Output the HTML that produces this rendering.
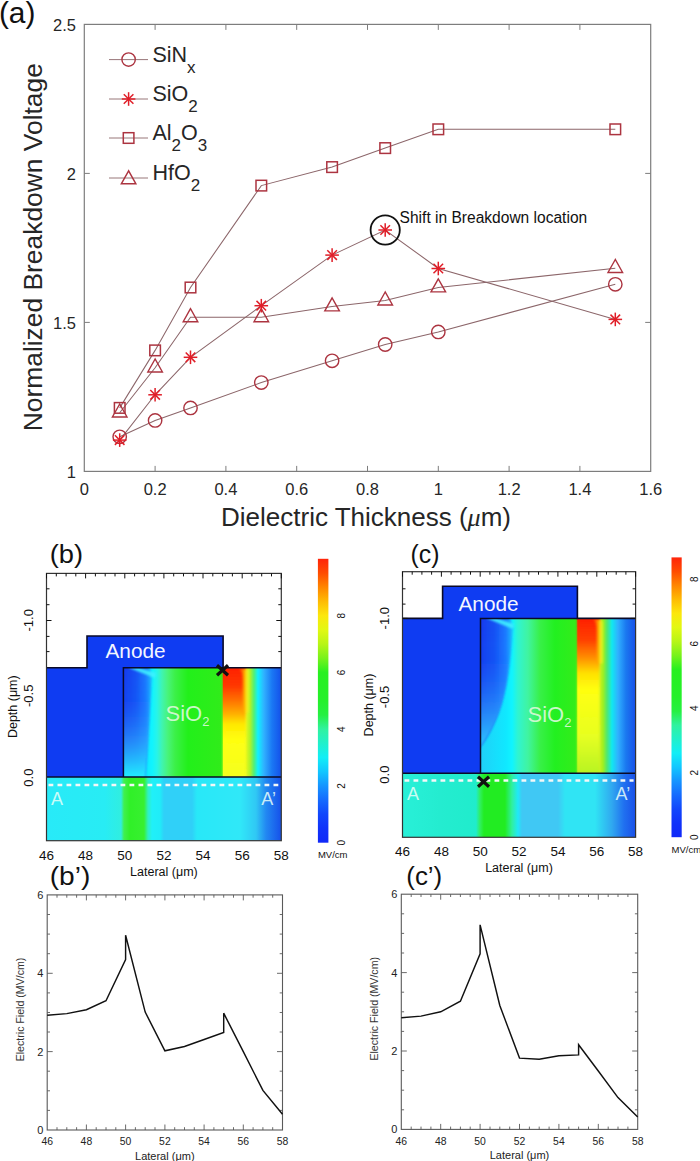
<!DOCTYPE html>
<html><head><meta charset="utf-8"><style>
html,body{margin:0;padding:0;background:#fff;width:700px;height:1161px;overflow:hidden}
svg{display:block;font-family:"Liberation Sans", sans-serif}
</style></head><body>
<svg width="700" height="1161" viewBox="0 0 700 1161">
<defs><filter id="bl1" x="-20%" y="-20%" width="140%" height="140%"><feGaussianBlur stdDeviation="1.3"/></filter><filter id="bl2" x="-20%" y="-20%" width="140%" height="140%"><feGaussianBlur stdDeviation="2.2"/></filter><clipPath id="bclip"><rect x="123.4" y="667.8" width="157.9" height="109.20000000000005"/></clipPath><clipPath id="bclipsub"><rect x="46.5" y="777" width="234.8" height="63.700000000000045"/></clipPath><linearGradient id="box" gradientUnits="userSpaceOnUse" x1="123.4" y1="0" x2="281.3" y2="0"><stop offset="0.0000" stop-color="#20c8ff"/><stop offset="0.1431" stop-color="#10e8ff"/><stop offset="0.1811" stop-color="#10f4ff"/><stop offset="0.2128" stop-color="#28f4e8"/><stop offset="0.2445" stop-color="#40f4b0"/><stop offset="0.2825" stop-color="#48f478"/><stop offset="0.3268" stop-color="#3cf048"/><stop offset="0.4091" stop-color="#22f01a"/><stop offset="0.6181" stop-color="#30ec1a"/><stop offset="0.7701" stop-color="#f0f820"/><stop offset="0.8018" stop-color="#b0f428"/><stop offset="0.8271" stop-color="#50f078"/><stop offset="0.8524" stop-color="#10f0ff"/><stop offset="0.8904" stop-color="#30b0ff"/><stop offset="0.9411" stop-color="#1a78f4"/><stop offset="1.0000" stop-color="#1450ea"/></linearGradient><linearGradient id="bbl" gradientUnits="userSpaceOnUse" x1="123.4" y1="0" x2="151.5" y2="0"><stop offset="0.0000" stop-color="#1238ee"/><stop offset="0.4500" stop-color="#1850f4"/><stop offset="0.8000" stop-color="#1c78ff"/><stop offset="1.0000" stop-color="#20b8ff"/></linearGradient><linearGradient id="bblv" gradientUnits="userSpaceOnUse" x1="0" y1="667.8" x2="0" y2="777"><stop offset="0.0000" stop-color="#30c0ff" stop-opacity="0"/><stop offset="0.2949" stop-color="#2080ff" stop-opacity="0.12"/><stop offset="0.6612" stop-color="#30b8ff" stop-opacity="0.55"/><stop offset="1.0000" stop-color="#20eeff" stop-opacity="1.0"/></linearGradient><linearGradient id="bred" gradientUnits="userSpaceOnUse" x1="0" y1="667.8" x2="0" y2="777"><stop offset="0.0000" stop-color="#ff2000" stop-opacity="1"/><stop offset="0.1667" stop-color="#ff3800" stop-opacity="1"/><stop offset="0.2949" stop-color="#ff7000" stop-opacity="1"/><stop offset="0.4231" stop-color="#ffb000" stop-opacity="1"/><stop offset="0.5147" stop-color="#ffe800" stop-opacity="1"/><stop offset="0.6612" stop-color="#ffff10" stop-opacity="1"/><stop offset="1.0000" stop-color="#f4ff20" stop-opacity="1"/></linearGradient><linearGradient id="bedge" gradientUnits="userSpaceOnUse" x1="238.5" y1="0" x2="250.5" y2="0"><stop offset="0" stop-color="#ff9000" stop-opacity="0"/><stop offset="0.45" stop-color="#ffa800" stop-opacity="0.85"/><stop offset="0.7" stop-color="#f8f020" stop-opacity="0.9"/><stop offset="1" stop-color="#c0f020" stop-opacity="0"/></linearGradient><linearGradient id="bsub" gradientUnits="userSpaceOnUse" x1="46.5" y1="0" x2="281.3" y2="0"><stop offset="0.0000" stop-color="#28eaf8"/><stop offset="0.2491" stop-color="#28ecf4"/><stop offset="0.3173" stop-color="#30eee0"/><stop offset="0.3301" stop-color="#40f050"/><stop offset="0.3556" stop-color="#30f028"/><stop offset="0.4152" stop-color="#38f030"/><stop offset="0.4323" stop-color="#30f0c0"/><stop offset="0.4493" stop-color="#20f0f8"/><stop offset="0.4834" stop-color="#20ecf8"/><stop offset="0.5004" stop-color="#30d0f8"/><stop offset="0.6197" stop-color="#30d0f8"/><stop offset="0.6410" stop-color="#28e8f8"/><stop offset="0.8241" stop-color="#30e8f8"/><stop offset="0.8922" stop-color="#30c8f4"/><stop offset="0.9348" stop-color="#2288f2"/><stop offset="1.0000" stop-color="#1650ea"/></linearGradient><linearGradient id="bcb" x1="0" y1="1" x2="0" y2="0"><stop offset="0.00" stop-color="#1028f8"/><stop offset="0.05" stop-color="#1032fa"/><stop offset="0.10" stop-color="#1146fc"/><stop offset="0.15" stop-color="#156afe"/><stop offset="0.20" stop-color="#1694ff"/><stop offset="0.25" stop-color="#12c6ff"/><stop offset="0.30" stop-color="#12eef6"/><stop offset="0.35" stop-color="#21f0cb"/><stop offset="0.40" stop-color="#30f2a0"/><stop offset="0.45" stop-color="#26f042"/><stop offset="0.50" stop-color="#25f02b"/><stop offset="0.55" stop-color="#26f025"/><stop offset="0.60" stop-color="#28f020"/><stop offset="0.65" stop-color="#78f21b"/><stop offset="0.70" stop-color="#b8f516"/><stop offset="0.75" stop-color="#e2f812"/><stop offset="0.80" stop-color="#fce70c"/><stop offset="0.85" stop-color="#febb04"/><stop offset="0.90" stop-color="#ff8600"/><stop offset="0.95" stop-color="#ff4c01"/><stop offset="1.00" stop-color="#ff240a"/></linearGradient><clipPath id="cclip"><rect x="480.5" y="618.4" width="155.10000000000002" height="154.80000000000007"/></clipPath><clipPath id="cclipsub"><rect x="402.5" y="773.2" width="233.10000000000002" height="64.09999999999991"/></clipPath><linearGradient id="cox" gradientUnits="userSpaceOnUse" x1="480.5" y1="0" x2="635.6" y2="0"><stop offset="0.0000" stop-color="#20d0f8"/><stop offset="0.1644" stop-color="#10e8ff"/><stop offset="0.2031" stop-color="#10f4ff"/><stop offset="0.2418" stop-color="#30f4d0"/><stop offset="0.3063" stop-color="#40f4a0"/><stop offset="0.3836" stop-color="#38f048"/><stop offset="0.4803" stop-color="#22f020"/><stop offset="0.6222" stop-color="#34ec1a"/><stop offset="0.7640" stop-color="#d0f020"/><stop offset="0.7898" stop-color="#a0f020"/><stop offset="0.8156" stop-color="#50e870"/><stop offset="0.8478" stop-color="#10e8f0"/><stop offset="0.8865" stop-color="#30b0ff"/><stop offset="0.9381" stop-color="#1a78f0"/><stop offset="1.0000" stop-color="#1850e8"/></linearGradient><linearGradient id="cbl" gradientUnits="userSpaceOnUse" x1="480.5" y1="0" x2="512" y2="0"><stop offset="0.0000" stop-color="#1238ee"/><stop offset="0.4500" stop-color="#1850f4"/><stop offset="0.8000" stop-color="#1c78ff"/><stop offset="1.0000" stop-color="#20b8ff"/></linearGradient><linearGradient id="cblv" gradientUnits="userSpaceOnUse" x1="0" y1="618.4" x2="0" y2="773.2"><stop offset="0.0000" stop-color="#30c0ff" stop-opacity="0"/><stop offset="0.2687" stop-color="#2080ff" stop-opacity="0.1"/><stop offset="0.5594" stop-color="#30b0ff" stop-opacity="0.5"/><stop offset="0.8501" stop-color="#30d8ff" stop-opacity="0.95"/></linearGradient><linearGradient id="cred" gradientUnits="userSpaceOnUse" x1="0" y1="618.4" x2="0" y2="773.2"><stop offset="0.0000" stop-color="#ff2000" stop-opacity="1"/><stop offset="0.1395" stop-color="#ff4000" stop-opacity="1"/><stop offset="0.2558" stop-color="#ff9000" stop-opacity="1"/><stop offset="0.3527" stop-color="#ffe000" stop-opacity="1"/><stop offset="0.4625" stop-color="#ffff10" stop-opacity="1"/><stop offset="0.7532" stop-color="#e8ff20" stop-opacity="1"/><stop offset="1.0000" stop-color="#b8f420" stop-opacity="1"/></linearGradient><linearGradient id="cedge" gradientUnits="userSpaceOnUse" x1="592.5" y1="0" x2="604.5" y2="0"><stop offset="0" stop-color="#ff9000" stop-opacity="0"/><stop offset="0.45" stop-color="#ffa800" stop-opacity="0.85"/><stop offset="0.7" stop-color="#f8f020" stop-opacity="0.9"/><stop offset="1" stop-color="#c0f020" stop-opacity="0"/></linearGradient><linearGradient id="csub" gradientUnits="userSpaceOnUse" x1="402.5" y1="0" x2="635.6" y2="0"><stop offset="0.0000" stop-color="#28f0d8"/><stop offset="0.1609" stop-color="#24ecd0"/><stop offset="0.3153" stop-color="#20eccc"/><stop offset="0.3325" stop-color="#30f060"/><stop offset="0.3496" stop-color="#22ec22"/><stop offset="0.4397" stop-color="#22ec22"/><stop offset="0.4698" stop-color="#30f0a0"/><stop offset="0.4955" stop-color="#20e8f8"/><stop offset="0.5127" stop-color="#40c8f4"/><stop offset="0.6671" stop-color="#40c8f4"/><stop offset="0.6971" stop-color="#30e4f4"/><stop offset="0.8258" stop-color="#30e4f4"/><stop offset="0.8988" stop-color="#30a8f0"/><stop offset="0.9502" stop-color="#2070f0"/><stop offset="1.0000" stop-color="#1a50e8"/></linearGradient><linearGradient id="ccb" x1="0" y1="1" x2="0" y2="0"><stop offset="0.00" stop-color="#1028f8"/><stop offset="0.05" stop-color="#1032fa"/><stop offset="0.10" stop-color="#1146fc"/><stop offset="0.15" stop-color="#156afe"/><stop offset="0.20" stop-color="#1694ff"/><stop offset="0.25" stop-color="#12c6ff"/><stop offset="0.30" stop-color="#12eef6"/><stop offset="0.35" stop-color="#21f0cb"/><stop offset="0.40" stop-color="#30f2a0"/><stop offset="0.45" stop-color="#26f042"/><stop offset="0.50" stop-color="#25f02b"/><stop offset="0.55" stop-color="#26f025"/><stop offset="0.60" stop-color="#28f020"/><stop offset="0.65" stop-color="#78f21b"/><stop offset="0.70" stop-color="#b8f516"/><stop offset="0.75" stop-color="#e2f812"/><stop offset="0.80" stop-color="#fce70c"/><stop offset="0.85" stop-color="#febb04"/><stop offset="0.90" stop-color="#ff8600"/><stop offset="0.95" stop-color="#ff4c01"/><stop offset="1.00" stop-color="#ff240a"/></linearGradient></defs>
<rect width="700" height="1161" fill="#fff"/>
<rect x="84.3" y="24.4" width="566.4000000000001" height="447.0" fill="none" stroke="#7d7d7d" stroke-width="1.2"/>
<line x1="155.1" y1="471.4" x2="155.1" y2="465.9" stroke="#7d7d7d" stroke-width="1"/>
<line x1="155.1" y1="24.4" x2="155.1" y2="29.9" stroke="#7d7d7d" stroke-width="1"/>
<line x1="225.9" y1="471.4" x2="225.9" y2="465.9" stroke="#7d7d7d" stroke-width="1"/>
<line x1="225.9" y1="24.4" x2="225.9" y2="29.9" stroke="#7d7d7d" stroke-width="1"/>
<line x1="296.7" y1="471.4" x2="296.7" y2="465.9" stroke="#7d7d7d" stroke-width="1"/>
<line x1="296.7" y1="24.4" x2="296.7" y2="29.9" stroke="#7d7d7d" stroke-width="1"/>
<line x1="367.5" y1="471.4" x2="367.5" y2="465.9" stroke="#7d7d7d" stroke-width="1"/>
<line x1="367.5" y1="24.4" x2="367.5" y2="29.9" stroke="#7d7d7d" stroke-width="1"/>
<line x1="438.3" y1="471.4" x2="438.3" y2="465.9" stroke="#7d7d7d" stroke-width="1"/>
<line x1="438.3" y1="24.4" x2="438.3" y2="29.9" stroke="#7d7d7d" stroke-width="1"/>
<line x1="509.1" y1="471.4" x2="509.1" y2="465.9" stroke="#7d7d7d" stroke-width="1"/>
<line x1="509.1" y1="24.4" x2="509.1" y2="29.9" stroke="#7d7d7d" stroke-width="1"/>
<line x1="579.9" y1="471.4" x2="579.9" y2="465.9" stroke="#7d7d7d" stroke-width="1"/>
<line x1="579.9" y1="24.4" x2="579.9" y2="29.9" stroke="#7d7d7d" stroke-width="1"/>
<line x1="84.3" y1="322.4" x2="89.8" y2="322.4" stroke="#7d7d7d" stroke-width="1"/>
<line x1="650.7" y1="322.4" x2="645.2" y2="322.4" stroke="#7d7d7d" stroke-width="1"/>
<line x1="84.3" y1="173.4" x2="89.8" y2="173.4" stroke="#7d7d7d" stroke-width="1"/>
<line x1="650.7" y1="173.4" x2="645.2" y2="173.4" stroke="#7d7d7d" stroke-width="1"/>
<text x="84.3" y="495" font-size="16.5" text-anchor="middle" fill="#262626">0</text>
<text x="155.1" y="495" font-size="16.5" text-anchor="middle" fill="#262626">0.2</text>
<text x="225.9" y="495" font-size="16.5" text-anchor="middle" fill="#262626">0.4</text>
<text x="296.7" y="495" font-size="16.5" text-anchor="middle" fill="#262626">0.6</text>
<text x="367.5" y="495" font-size="16.5" text-anchor="middle" fill="#262626">0.8</text>
<text x="438.3" y="495" font-size="16.5" text-anchor="middle" fill="#262626">1</text>
<text x="509.1" y="495" font-size="16.5" text-anchor="middle" fill="#262626">1.2</text>
<text x="579.9" y="495" font-size="16.5" text-anchor="middle" fill="#262626">1.4</text>
<text x="650.7" y="495" font-size="16.5" text-anchor="middle" fill="#262626">1.6</text>
<text x="76" y="478.2" font-size="16.5" text-anchor="end" fill="#262626">1</text>
<text x="76" y="329.2" font-size="16.5" text-anchor="end" fill="#262626">1.5</text>
<text x="76" y="180.2" font-size="16.5" text-anchor="end" fill="#262626">2</text>
<text x="76" y="31.2" font-size="16.5" text-anchor="end" fill="#262626">2.5</text>
<text x="366" y="525.8" font-size="26" text-anchor="middle" fill="#262626">Dielectric Thickness (<tspan font-family="Liberation Serif" font-style="italic">μ</tspan>m)</text>
<text transform="translate(41.9,247.2) rotate(-90)" x="0" y="0" font-size="26.4" text-anchor="middle" fill="#262626">Normalized Breakdown Voltage</text>
<text x="-1.1" y="23.2" font-size="29.2" textLength="36.5" lengthAdjust="spacingAndGlyphs" fill="#111">(a)</text>
<polyline points="119.7,436.8 155.1,420.4 190.5,407.9 261.3,382.6 332.1,360.8 385.2,344.5 438.3,331.9 615.3,284.3" fill="none" stroke="#8c666a" stroke-width="1.05"/>
<polyline points="119.7,412.7 155.1,367.7 190.5,317.3 261.3,317.3 332.1,306.6 385.2,300.6 438.3,287.5 615.3,268.2" fill="none" stroke="#8c666a" stroke-width="1.05"/>
<polyline points="119.7,440.1 155.1,394.8 190.5,357.3 261.3,305.7 332.1,255.1 385.2,230.0 438.3,268.5 615.3,319.4" fill="none" stroke="#8c666a" stroke-width="1.05"/>
<polyline points="119.7,407.9 155.1,350.4 190.5,287.5 261.3,185.6 332.1,167.1 385.2,148.1 438.3,129.3 615.3,129.3" fill="none" stroke="#8c666a" stroke-width="1.05"/>
<circle cx="119.7" cy="436.8" r="6.7" fill="none" stroke="#ac3440" stroke-width="1.4"/>
<circle cx="155.1" cy="420.4" r="6.7" fill="none" stroke="#ac3440" stroke-width="1.4"/>
<circle cx="190.5" cy="407.9" r="6.7" fill="none" stroke="#ac3440" stroke-width="1.4"/>
<circle cx="261.3" cy="382.6" r="6.7" fill="none" stroke="#ac3440" stroke-width="1.4"/>
<circle cx="332.1" cy="360.8" r="6.7" fill="none" stroke="#ac3440" stroke-width="1.4"/>
<circle cx="385.2" cy="344.5" r="6.7" fill="none" stroke="#ac3440" stroke-width="1.4"/>
<circle cx="438.3" cy="331.9" r="6.7" fill="none" stroke="#ac3440" stroke-width="1.4"/>
<circle cx="615.3" cy="284.3" r="6.7" fill="none" stroke="#ac3440" stroke-width="1.4"/>
<polygon points="119.7,404.0 112.4,417.0 127.0,417.0" fill="none" stroke="#ac3440" stroke-width="1.4" stroke-linejoin="miter"/>
<polygon points="155.1,359.0 147.8,372.0 162.4,372.0" fill="none" stroke="#ac3440" stroke-width="1.4" stroke-linejoin="miter"/>
<polygon points="190.5,308.7 183.2,321.7 197.8,321.7" fill="none" stroke="#ac3440" stroke-width="1.4" stroke-linejoin="miter"/>
<polygon points="261.3,308.7 254.0,321.7 268.6,321.7" fill="none" stroke="#ac3440" stroke-width="1.4" stroke-linejoin="miter"/>
<polygon points="332.1,297.9 324.8,310.9 339.4,310.9" fill="none" stroke="#ac3440" stroke-width="1.4" stroke-linejoin="miter"/>
<polygon points="385.2,292.0 377.9,305.0 392.5,305.0" fill="none" stroke="#ac3440" stroke-width="1.4" stroke-linejoin="miter"/>
<polygon points="438.3,278.9 431.0,291.9 445.6,291.9" fill="none" stroke="#ac3440" stroke-width="1.4" stroke-linejoin="miter"/>
<polygon points="615.3,259.5 608.0,272.5 622.6,272.5" fill="none" stroke="#ac3440" stroke-width="1.4" stroke-linejoin="miter"/>
<g stroke="#e01e28" stroke-width="1.5"><line x1="112.9" y1="440.1" x2="126.5" y2="440.1"/><line x1="114.9" y1="435.3" x2="124.5" y2="444.9"/><line x1="119.7" y1="433.3" x2="119.7" y2="446.9"/><line x1="124.5" y1="435.3" x2="114.9" y2="444.9"/></g>
<g stroke="#e01e28" stroke-width="1.5"><line x1="148.3" y1="394.8" x2="161.9" y2="394.8"/><line x1="150.3" y1="390.0" x2="159.9" y2="399.6"/><line x1="155.1" y1="388.0" x2="155.1" y2="401.6"/><line x1="159.9" y1="390.0" x2="150.3" y2="399.6"/></g>
<g stroke="#e01e28" stroke-width="1.5"><line x1="183.7" y1="357.3" x2="197.3" y2="357.3"/><line x1="185.7" y1="352.5" x2="195.3" y2="362.1"/><line x1="190.5" y1="350.5" x2="190.5" y2="364.1"/><line x1="195.3" y1="352.5" x2="185.7" y2="362.1"/></g>
<g stroke="#e01e28" stroke-width="1.5"><line x1="254.5" y1="305.7" x2="268.1" y2="305.7"/><line x1="256.5" y1="300.9" x2="266.1" y2="310.5"/><line x1="261.3" y1="298.9" x2="261.3" y2="312.5"/><line x1="266.1" y1="300.9" x2="256.5" y2="310.5"/></g>
<g stroke="#e01e28" stroke-width="1.5"><line x1="325.3" y1="255.1" x2="338.9" y2="255.1"/><line x1="327.3" y1="250.2" x2="336.9" y2="259.9"/><line x1="332.1" y1="248.3" x2="332.1" y2="261.9"/><line x1="336.9" y1="250.2" x2="327.3" y2="259.9"/></g>
<g stroke="#e01e28" stroke-width="1.5"><line x1="378.4" y1="230.0" x2="392.0" y2="230.0"/><line x1="380.4" y1="225.2" x2="390.0" y2="234.8"/><line x1="385.2" y1="223.2" x2="385.2" y2="236.8"/><line x1="390.0" y1="225.2" x2="380.4" y2="234.8"/></g>
<g stroke="#e01e28" stroke-width="1.5"><line x1="431.5" y1="268.5" x2="445.1" y2="268.5"/><line x1="433.5" y1="263.7" x2="443.1" y2="273.3"/><line x1="438.3" y1="261.7" x2="438.3" y2="275.3"/><line x1="443.1" y1="263.7" x2="433.5" y2="273.3"/></g>
<g stroke="#e01e28" stroke-width="1.5"><line x1="608.5" y1="319.4" x2="622.1" y2="319.4"/><line x1="610.5" y1="314.6" x2="620.1" y2="324.2"/><line x1="615.3" y1="312.6" x2="615.3" y2="326.2"/><line x1="620.1" y1="314.6" x2="610.5" y2="324.2"/></g>
<rect x="114.4" y="402.6" width="10.6" height="10.6" fill="none" stroke="#ac3440" stroke-width="1.5"/>
<rect x="149.8" y="345.1" width="10.6" height="10.6" fill="none" stroke="#ac3440" stroke-width="1.5"/>
<rect x="185.2" y="282.2" width="10.6" height="10.6" fill="none" stroke="#ac3440" stroke-width="1.5"/>
<rect x="256.0" y="180.3" width="10.6" height="10.6" fill="none" stroke="#ac3440" stroke-width="1.5"/>
<rect x="326.8" y="161.8" width="10.6" height="10.6" fill="none" stroke="#ac3440" stroke-width="1.5"/>
<rect x="379.9" y="142.8" width="10.6" height="10.6" fill="none" stroke="#ac3440" stroke-width="1.5"/>
<rect x="433.0" y="124.0" width="10.6" height="10.6" fill="none" stroke="#ac3440" stroke-width="1.5"/>
<rect x="610.0" y="124.0" width="10.6" height="10.6" fill="none" stroke="#ac3440" stroke-width="1.5"/>
<circle cx="385.2" cy="230.0" r="14.6" fill="none" stroke="#111" stroke-width="1.8"/>
<text x="399.6" y="223.3" font-size="16" textLength="187.6" lengthAdjust="spacingAndGlyphs" fill="#111">Shift in Breakdown location</text>
<line x1="109" y1="59.6" x2="148" y2="59.6" stroke="#8c666a" stroke-width="0.9"/>
<circle cx="128.6" cy="59.6" r="6.7" fill="none" stroke="#ac3440" stroke-width="1.4"/>
<line x1="109" y1="99" x2="148" y2="99" stroke="#8c666a" stroke-width="0.9"/>
<g stroke="#e01e28" stroke-width="1.5"><line x1="121.8" y1="99.0" x2="135.4" y2="99.0"/><line x1="123.8" y1="94.2" x2="133.4" y2="103.8"/><line x1="128.6" y1="92.2" x2="128.6" y2="105.8"/><line x1="133.4" y1="94.2" x2="123.8" y2="103.8"/></g>
<line x1="109" y1="138" x2="148" y2="138" stroke="#8c666a" stroke-width="0.9"/>
<rect x="123.3" y="132.7" width="10.6" height="10.6" fill="none" stroke="#ac3440" stroke-width="1.5"/>
<line x1="109" y1="178" x2="148" y2="178" stroke="#8c666a" stroke-width="0.9"/>
<polygon points="128.6,170.8 121.3,183.8 135.9,183.8" fill="none" stroke="#ac3440" stroke-width="1.4" stroke-linejoin="miter"/>
<text x="152.4" y="62.0" font-size="21.5" fill="#262626">SiN<tspan font-size="17" dy="11">x</tspan></text>
<text x="152.4" y="101.4" font-size="21.5" fill="#262626">SiO<tspan font-size="17" dy="11">2</tspan></text>
<text x="152.4" y="140.4" font-size="21.5" fill="#262626">Al<tspan font-size="17" dy="11">2</tspan><tspan dy="-11">O</tspan><tspan font-size="17" dy="11">3</tspan></text>
<text x="152.4" y="180.4" font-size="21.5" fill="#262626">HfO<tspan font-size="17" dy="11">2</tspan></text>
<rect x="46.5" y="573.4" width="234.8" height="267.30000000000007" fill="#fff"/>
<path d="M46.5,667.8 H87 V636 H223.1 V667.8 H123.4 V777 H46.5 Z" fill="#0f3cf2"/>
<g clip-path="url(#bclip)">
<rect x="123.4" y="667.8" width="157.9" height="109.20000000000005" fill="url(#box)"/>
<path d="M118,664 H149 L152,678 C150,710 148,745 145,782 H118 Z" fill="url(#bbl)" filter="url(#bl1)"/>
<path d="M118,664 H149 L152,678 C150,710 148,745 145,782 H118 Z" fill="url(#bblv)" filter="url(#bl1)"/>
<path d="M128,667.5 L138,667.5 L156,673 L155,678 Z" fill="#40f0ff" filter="url(#bl1)" opacity="0.9"/>
<rect x="223" y="664.8" width="22.5" height="115.20000000000005" fill="url(#bred)" filter="url(#bl1)"/>
<rect x="223" y="664.8" width="3" height="115.20000000000005" fill="url(#bred)"/>
<path d="M233.5,667.8 C241.5,667.8 242.5,672.8 242.5,679.8 V712.8 H250.5 V675.8 C250.5,669.8 245.5,667.8 233.5,667.8 Z" fill="url(#bedge)" filter="url(#bl1)"/>
</g>
<g clip-path="url(#bclipsub)"><rect x="46.5" y="777" width="234.8" height="63.700000000000045" fill="url(#bsub)"/>
</g>
<path d="M46.5,667.8 H87 V636 H223.1 V667.8 H281.3" fill="none" stroke="#0a0a28" stroke-width="1.6"/>
<path d="M223.1,667.8 H123.4 V777" fill="none" stroke="#0a0a28" stroke-width="1.5"/>
<line x1="46.5" y1="777" x2="281.3" y2="777" stroke="#0a0a28" stroke-width="1.5"/>
<rect x="46.5" y="573.4" width="234.8" height="267.30000000000007" fill="none" stroke="#333" stroke-width="1.2"/>
<line x1="46.5" y1="573.4" x2="46.5" y2="578.4" stroke="#111" stroke-width="1"/>
<line x1="56.3" y1="573.4" x2="56.3" y2="576.4" stroke="#111" stroke-width="1"/>
<line x1="66.1" y1="573.4" x2="66.1" y2="576.4" stroke="#111" stroke-width="1"/>
<line x1="75.8" y1="573.4" x2="75.8" y2="576.4" stroke="#111" stroke-width="1"/>
<line x1="85.6" y1="573.4" x2="85.6" y2="578.4" stroke="#111" stroke-width="1"/>
<line x1="95.4" y1="573.4" x2="95.4" y2="576.4" stroke="#111" stroke-width="1"/>
<line x1="105.2" y1="573.4" x2="105.2" y2="576.4" stroke="#111" stroke-width="1"/>
<line x1="115.0" y1="573.4" x2="115.0" y2="576.4" stroke="#111" stroke-width="1"/>
<line x1="124.8" y1="573.4" x2="124.8" y2="578.4" stroke="#111" stroke-width="1"/>
<line x1="134.6" y1="573.4" x2="134.6" y2="576.4" stroke="#111" stroke-width="1"/>
<line x1="144.3" y1="573.4" x2="144.3" y2="576.4" stroke="#111" stroke-width="1"/>
<line x1="154.1" y1="573.4" x2="154.1" y2="576.4" stroke="#111" stroke-width="1"/>
<line x1="163.9" y1="573.4" x2="163.9" y2="578.4" stroke="#111" stroke-width="1"/>
<line x1="173.7" y1="573.4" x2="173.7" y2="576.4" stroke="#111" stroke-width="1"/>
<line x1="183.5" y1="573.4" x2="183.5" y2="576.4" stroke="#111" stroke-width="1"/>
<line x1="193.2" y1="573.4" x2="193.2" y2="576.4" stroke="#111" stroke-width="1"/>
<line x1="203.0" y1="573.4" x2="203.0" y2="578.4" stroke="#111" stroke-width="1"/>
<line x1="212.8" y1="573.4" x2="212.8" y2="576.4" stroke="#111" stroke-width="1"/>
<line x1="222.6" y1="573.4" x2="222.6" y2="576.4" stroke="#111" stroke-width="1"/>
<line x1="232.4" y1="573.4" x2="232.4" y2="576.4" stroke="#111" stroke-width="1"/>
<line x1="242.2" y1="573.4" x2="242.2" y2="578.4" stroke="#111" stroke-width="1"/>
<line x1="251.9" y1="573.4" x2="251.9" y2="576.4" stroke="#111" stroke-width="1"/>
<line x1="261.7" y1="573.4" x2="261.7" y2="576.4" stroke="#111" stroke-width="1"/>
<line x1="271.5" y1="573.4" x2="271.5" y2="576.4" stroke="#111" stroke-width="1"/>
<line x1="281.3" y1="573.4" x2="281.3" y2="578.4" stroke="#111" stroke-width="1"/>
<line x1="46.5" y1="588.8" x2="49.5" y2="588.8" stroke="#111" stroke-width="1"/>
<line x1="281.3" y1="588.8" x2="278.3" y2="588.8" stroke="#111" stroke-width="1"/>
<line x1="46.5" y1="604.7" x2="49.5" y2="604.7" stroke="#111" stroke-width="1"/>
<line x1="281.3" y1="604.7" x2="278.3" y2="604.7" stroke="#111" stroke-width="1"/>
<line x1="46.5" y1="620.5" x2="51.5" y2="620.5" stroke="#111" stroke-width="1"/>
<line x1="281.3" y1="620.5" x2="276.3" y2="620.5" stroke="#111" stroke-width="1"/>
<line x1="46.5" y1="636.4" x2="49.5" y2="636.4" stroke="#111" stroke-width="1"/>
<line x1="281.3" y1="636.4" x2="278.3" y2="636.4" stroke="#111" stroke-width="1"/>
<line x1="46.5" y1="651.6" x2="49.5" y2="651.6" stroke="#111" stroke-width="1"/>
<line x1="281.3" y1="651.6" x2="278.3" y2="651.6" stroke="#111" stroke-width="1"/>
<line x1="48.5" y1="785" x2="279.3" y2="785" stroke="#f4f8f8" stroke-width="2.4" stroke-dasharray="4.8,4.2"/>
<text x="165.5" y="720.7" font-size="22" fill="#d4f8d4" fill-opacity="0.95">SiO<tspan font-size="13" dy="5">2</tspan></text>
<text x="105.5" y="658" font-size="20.8" fill="#f4f6ff">Anode</text>
<text x="51.0" y="805" font-size="18" fill="#e8fff8" fill-opacity="0.85">A</text>
<text x="261.3" y="805" font-size="18" fill="#e8fff8" fill-opacity="0.85">A’</text>
<g stroke="#111" stroke-width="3.2" stroke-linecap="butt"><line x1="217.0" y1="665.3" x2="228.0" y2="675.3"/><line x1="217.0" y1="675.3" x2="228.0" y2="665.3"/></g>
<text x="46.5" y="859.7" font-size="13.5" text-anchor="middle" fill="#111">46</text>
<text x="85.6" y="859.7" font-size="13.5" text-anchor="middle" fill="#111">48</text>
<text x="124.8" y="859.7" font-size="13.5" text-anchor="middle" fill="#111">50</text>
<text x="163.9" y="859.7" font-size="13.5" text-anchor="middle" fill="#111">52</text>
<text x="203.0" y="859.7" font-size="13.5" text-anchor="middle" fill="#111">54</text>
<text x="242.2" y="859.7" font-size="13.5" text-anchor="middle" fill="#111">56</text>
<text x="281.3" y="859.7" font-size="13.5" text-anchor="middle" fill="#111">58</text>
<text x="163.9" y="875.7" font-size="12.5" text-anchor="middle" fill="#111">Lateral (μm)</text>
<text transform="translate(33.0,620.3) rotate(-90)" font-size="13" text-anchor="middle" fill="#111">-1.0</text>
<text transform="translate(33.0,695.8) rotate(-90)" font-size="13" text-anchor="middle" fill="#111">-0.5</text>
<text transform="translate(33.0,777.6) rotate(-90)" font-size="13" text-anchor="middle" fill="#111">0.0</text>
<text transform="translate(17.0,706.7) rotate(-90)" font-size="12.5" text-anchor="middle" fill="#111">Depth (μm)</text>
<rect x="317.9" y="558.8" width="10.5" height="283.9000000000001" fill="url(#bcb)"/>
<text transform="translate(344.9,842.7) rotate(-90)" font-size="10" text-anchor="middle" fill="#111">0</text>
<text transform="translate(344.9,785.9) rotate(-90)" font-size="10" text-anchor="middle" fill="#111">2</text>
<text transform="translate(344.9,729.1) rotate(-90)" font-size="10" text-anchor="middle" fill="#111">4</text>
<text transform="translate(344.9,672.4) rotate(-90)" font-size="10" text-anchor="middle" fill="#111">6</text>
<text transform="translate(344.9,615.6) rotate(-90)" font-size="10" text-anchor="middle" fill="#111">8</text>
<text x="317.9" y="858.2" font-size="9.5" fill="#111">MV/cm</text>
<text x="49.8" y="562.6" font-size="25.4" textLength="33.3" lengthAdjust="spacingAndGlyphs" fill="#111">(b)</text>
<rect x="402.5" y="571.7" width="233.10000000000002" height="265.5999999999999" fill="#fff"/>
<path d="M402.5,618.4 H442.6 V586.2 H577.4 V618.4 H480.5 V773.2 H402.5 Z" fill="#0f3cf2"/>
<g clip-path="url(#cclip)">
<rect x="480.5" y="618.4" width="155.10000000000002" height="154.80000000000007" fill="url(#cox)"/>
<path d="M476,614 H509 L513,628 C511,660 507,690 499,712 C493,728 485,742 476,752 Z" fill="url(#cbl)" filter="url(#bl1)"/>
<path d="M476,614 H509 L513,628 C511,660 507,690 499,712 C493,728 485,742 476,752 Z" fill="url(#cblv)" filter="url(#bl1)"/>
<path d="M486,618 L496,618 L514,624 L513,629 Z" fill="#40f0ff" filter="url(#bl1)" opacity="0.9"/>
<rect x="577.4" y="615.4" width="22.100000000000023" height="160.80000000000007" fill="url(#cred)" filter="url(#bl1)"/>
<rect x="577.4" y="615.4" width="3" height="160.80000000000007" fill="url(#cred)"/>
<path d="M587.5,618.4 C595.5,618.4 596.5,623.4 596.5,630.4 V663.4 H604.5 V626.4 C604.5,620.4 599.5,618.4 587.5,618.4 Z" fill="url(#cedge)" filter="url(#bl1)"/>
</g>
<g clip-path="url(#cclipsub)"><rect x="402.5" y="773.2" width="233.10000000000002" height="64.09999999999991" fill="url(#csub)"/>
</g>
<path d="M402.5,618.4 H442.6 V586.2 H577.4 V618.4 H635.6" fill="none" stroke="#0a0a28" stroke-width="1.6"/>
<path d="M577.4,618.4 H480.5 V773.2" fill="none" stroke="#0a0a28" stroke-width="1.5"/>
<line x1="402.5" y1="773.2" x2="635.6" y2="773.2" stroke="#0a0a28" stroke-width="1.5"/>
<rect x="402.5" y="571.7" width="233.10000000000002" height="265.5999999999999" fill="none" stroke="#333" stroke-width="1.2"/>
<line x1="402.5" y1="571.7" x2="402.5" y2="576.7" stroke="#111" stroke-width="1"/>
<line x1="412.2" y1="571.7" x2="412.2" y2="574.7" stroke="#111" stroke-width="1"/>
<line x1="421.9" y1="571.7" x2="421.9" y2="574.7" stroke="#111" stroke-width="1"/>
<line x1="431.6" y1="571.7" x2="431.6" y2="574.7" stroke="#111" stroke-width="1"/>
<line x1="441.4" y1="571.7" x2="441.4" y2="576.7" stroke="#111" stroke-width="1"/>
<line x1="451.1" y1="571.7" x2="451.1" y2="574.7" stroke="#111" stroke-width="1"/>
<line x1="460.8" y1="571.7" x2="460.8" y2="574.7" stroke="#111" stroke-width="1"/>
<line x1="470.5" y1="571.7" x2="470.5" y2="574.7" stroke="#111" stroke-width="1"/>
<line x1="480.2" y1="571.7" x2="480.2" y2="576.7" stroke="#111" stroke-width="1"/>
<line x1="489.9" y1="571.7" x2="489.9" y2="574.7" stroke="#111" stroke-width="1"/>
<line x1="499.6" y1="571.7" x2="499.6" y2="574.7" stroke="#111" stroke-width="1"/>
<line x1="509.3" y1="571.7" x2="509.3" y2="574.7" stroke="#111" stroke-width="1"/>
<line x1="519.0" y1="571.7" x2="519.0" y2="576.7" stroke="#111" stroke-width="1"/>
<line x1="528.8" y1="571.7" x2="528.8" y2="574.7" stroke="#111" stroke-width="1"/>
<line x1="538.5" y1="571.7" x2="538.5" y2="574.7" stroke="#111" stroke-width="1"/>
<line x1="548.2" y1="571.7" x2="548.2" y2="574.7" stroke="#111" stroke-width="1"/>
<line x1="557.9" y1="571.7" x2="557.9" y2="576.7" stroke="#111" stroke-width="1"/>
<line x1="567.6" y1="571.7" x2="567.6" y2="574.7" stroke="#111" stroke-width="1"/>
<line x1="577.3" y1="571.7" x2="577.3" y2="574.7" stroke="#111" stroke-width="1"/>
<line x1="587.0" y1="571.7" x2="587.0" y2="574.7" stroke="#111" stroke-width="1"/>
<line x1="596.8" y1="571.7" x2="596.8" y2="576.7" stroke="#111" stroke-width="1"/>
<line x1="606.5" y1="571.7" x2="606.5" y2="574.7" stroke="#111" stroke-width="1"/>
<line x1="616.2" y1="571.7" x2="616.2" y2="574.7" stroke="#111" stroke-width="1"/>
<line x1="625.9" y1="571.7" x2="625.9" y2="574.7" stroke="#111" stroke-width="1"/>
<line x1="635.6" y1="571.7" x2="635.6" y2="576.7" stroke="#111" stroke-width="1"/>
<line x1="402.5" y1="588.8" x2="405.5" y2="588.8" stroke="#111" stroke-width="1"/>
<line x1="635.6" y1="588.8" x2="632.6" y2="588.8" stroke="#111" stroke-width="1"/>
<line x1="402.5" y1="604.1" x2="405.5" y2="604.1" stroke="#111" stroke-width="1"/>
<line x1="635.6" y1="604.1" x2="632.6" y2="604.1" stroke="#111" stroke-width="1"/>
<line x1="402.5" y1="618.4" x2="407.5" y2="618.4" stroke="#111" stroke-width="1"/>
<line x1="635.6" y1="618.4" x2="630.6" y2="618.4" stroke="#111" stroke-width="1"/>
<line x1="404.5" y1="780.5" x2="633.6" y2="780.5" stroke="#f4f8f8" stroke-width="2.4" stroke-dasharray="4.8,4.2"/>
<text x="527.5" y="721.5" font-size="22" fill="#d4f8d4" fill-opacity="0.95">SiO<tspan font-size="13" dy="5">2</tspan></text>
<text x="458.5" y="610.8" font-size="20.8" fill="#f4f6ff">Anode</text>
<text x="407.0" y="799.5" font-size="18" fill="#e8fff8" fill-opacity="0.85">A</text>
<text x="615.6" y="799.5" font-size="18" fill="#e8fff8" fill-opacity="0.85">A’</text>
<g stroke="#111" stroke-width="3.2" stroke-linecap="butt"><line x1="478.0" y1="776.8" x2="489.0" y2="786.8"/><line x1="478.0" y1="786.8" x2="489.0" y2="776.8"/></g>
<text x="402.5" y="856.3" font-size="13.5" text-anchor="middle" fill="#111">46</text>
<text x="441.4" y="856.3" font-size="13.5" text-anchor="middle" fill="#111">48</text>
<text x="480.2" y="856.3" font-size="13.5" text-anchor="middle" fill="#111">50</text>
<text x="519.0" y="856.3" font-size="13.5" text-anchor="middle" fill="#111">52</text>
<text x="557.9" y="856.3" font-size="13.5" text-anchor="middle" fill="#111">54</text>
<text x="596.8" y="856.3" font-size="13.5" text-anchor="middle" fill="#111">56</text>
<text x="635.6" y="856.3" font-size="13.5" text-anchor="middle" fill="#111">58</text>
<text x="519.0" y="872.3" font-size="12.5" text-anchor="middle" fill="#111">Lateral (μm)</text>
<text transform="translate(389.0,618.2) rotate(-90)" font-size="13" text-anchor="middle" fill="#111">-1.0</text>
<text transform="translate(389.0,697) rotate(-90)" font-size="13" text-anchor="middle" fill="#111">-0.5</text>
<text transform="translate(389.0,774.6) rotate(-90)" font-size="13" text-anchor="middle" fill="#111">0.0</text>
<text transform="translate(373.0,705) rotate(-90)" font-size="12.5" text-anchor="middle" fill="#111">Depth (μm)</text>
<rect x="671.5" y="557.4" width="10.200000000000045" height="279.80000000000007" fill="url(#ccb)"/>
<text transform="translate(698.2,837.2) rotate(-90)" font-size="10" text-anchor="middle" fill="#111">0</text>
<text transform="translate(698.2,772.7) rotate(-90)" font-size="10" text-anchor="middle" fill="#111">2</text>
<text transform="translate(698.2,708.3) rotate(-90)" font-size="10" text-anchor="middle" fill="#111">4</text>
<text transform="translate(698.2,643.8) rotate(-90)" font-size="10" text-anchor="middle" fill="#111">6</text>
<text transform="translate(698.2,579.3) rotate(-90)" font-size="10" text-anchor="middle" fill="#111">8</text>
<text x="671.5" y="852.7" font-size="9.5" fill="#111">MV/cm</text>
<text x="410.6" y="562.7" font-size="25.6" textLength="28.9" lengthAdjust="spacingAndGlyphs" fill="#111">(c)</text>
<rect x="47.2" y="894.9" width="235.3" height="235.10000000000002" fill="none" stroke="#5a5a5a" stroke-width="1.1"/>
<line x1="57.0" y1="1130" x2="57.0" y2="1127.2" stroke="#5a5a5a" stroke-width="0.9"/>
<line x1="57.0" y1="894.9" x2="57.0" y2="897.6999999999999" stroke="#5a5a5a" stroke-width="0.9"/>
<line x1="66.8" y1="1130" x2="66.8" y2="1127.2" stroke="#5a5a5a" stroke-width="0.9"/>
<line x1="66.8" y1="894.9" x2="66.8" y2="897.6999999999999" stroke="#5a5a5a" stroke-width="0.9"/>
<line x1="76.6" y1="1130" x2="76.6" y2="1127.2" stroke="#5a5a5a" stroke-width="0.9"/>
<line x1="76.6" y1="894.9" x2="76.6" y2="897.6999999999999" stroke="#5a5a5a" stroke-width="0.9"/>
<line x1="86.4" y1="1130" x2="86.4" y2="1124.5" stroke="#5a5a5a" stroke-width="0.9"/>
<line x1="86.4" y1="894.9" x2="86.4" y2="900.4" stroke="#5a5a5a" stroke-width="0.9"/>
<line x1="96.2" y1="1130" x2="96.2" y2="1127.2" stroke="#5a5a5a" stroke-width="0.9"/>
<line x1="96.2" y1="894.9" x2="96.2" y2="897.6999999999999" stroke="#5a5a5a" stroke-width="0.9"/>
<line x1="106.0" y1="1130" x2="106.0" y2="1127.2" stroke="#5a5a5a" stroke-width="0.9"/>
<line x1="106.0" y1="894.9" x2="106.0" y2="897.6999999999999" stroke="#5a5a5a" stroke-width="0.9"/>
<line x1="115.8" y1="1130" x2="115.8" y2="1127.2" stroke="#5a5a5a" stroke-width="0.9"/>
<line x1="115.8" y1="894.9" x2="115.8" y2="897.6999999999999" stroke="#5a5a5a" stroke-width="0.9"/>
<line x1="125.6" y1="1130" x2="125.6" y2="1124.5" stroke="#5a5a5a" stroke-width="0.9"/>
<line x1="125.6" y1="894.9" x2="125.6" y2="900.4" stroke="#5a5a5a" stroke-width="0.9"/>
<line x1="135.4" y1="1130" x2="135.4" y2="1127.2" stroke="#5a5a5a" stroke-width="0.9"/>
<line x1="135.4" y1="894.9" x2="135.4" y2="897.6999999999999" stroke="#5a5a5a" stroke-width="0.9"/>
<line x1="145.2" y1="1130" x2="145.2" y2="1127.2" stroke="#5a5a5a" stroke-width="0.9"/>
<line x1="145.2" y1="894.9" x2="145.2" y2="897.6999999999999" stroke="#5a5a5a" stroke-width="0.9"/>
<line x1="155.0" y1="1130" x2="155.0" y2="1127.2" stroke="#5a5a5a" stroke-width="0.9"/>
<line x1="155.0" y1="894.9" x2="155.0" y2="897.6999999999999" stroke="#5a5a5a" stroke-width="0.9"/>
<line x1="164.9" y1="1130" x2="164.9" y2="1124.5" stroke="#5a5a5a" stroke-width="0.9"/>
<line x1="164.9" y1="894.9" x2="164.9" y2="900.4" stroke="#5a5a5a" stroke-width="0.9"/>
<line x1="174.7" y1="1130" x2="174.7" y2="1127.2" stroke="#5a5a5a" stroke-width="0.9"/>
<line x1="174.7" y1="894.9" x2="174.7" y2="897.6999999999999" stroke="#5a5a5a" stroke-width="0.9"/>
<line x1="184.5" y1="1130" x2="184.5" y2="1127.2" stroke="#5a5a5a" stroke-width="0.9"/>
<line x1="184.5" y1="894.9" x2="184.5" y2="897.6999999999999" stroke="#5a5a5a" stroke-width="0.9"/>
<line x1="194.3" y1="1130" x2="194.3" y2="1127.2" stroke="#5a5a5a" stroke-width="0.9"/>
<line x1="194.3" y1="894.9" x2="194.3" y2="897.6999999999999" stroke="#5a5a5a" stroke-width="0.9"/>
<line x1="204.1" y1="1130" x2="204.1" y2="1124.5" stroke="#5a5a5a" stroke-width="0.9"/>
<line x1="204.1" y1="894.9" x2="204.1" y2="900.4" stroke="#5a5a5a" stroke-width="0.9"/>
<line x1="213.9" y1="1130" x2="213.9" y2="1127.2" stroke="#5a5a5a" stroke-width="0.9"/>
<line x1="213.9" y1="894.9" x2="213.9" y2="897.6999999999999" stroke="#5a5a5a" stroke-width="0.9"/>
<line x1="223.7" y1="1130" x2="223.7" y2="1127.2" stroke="#5a5a5a" stroke-width="0.9"/>
<line x1="223.7" y1="894.9" x2="223.7" y2="897.6999999999999" stroke="#5a5a5a" stroke-width="0.9"/>
<line x1="233.5" y1="1130" x2="233.5" y2="1127.2" stroke="#5a5a5a" stroke-width="0.9"/>
<line x1="233.5" y1="894.9" x2="233.5" y2="897.6999999999999" stroke="#5a5a5a" stroke-width="0.9"/>
<line x1="243.3" y1="1130" x2="243.3" y2="1124.5" stroke="#5a5a5a" stroke-width="0.9"/>
<line x1="243.3" y1="894.9" x2="243.3" y2="900.4" stroke="#5a5a5a" stroke-width="0.9"/>
<line x1="253.1" y1="1130" x2="253.1" y2="1127.2" stroke="#5a5a5a" stroke-width="0.9"/>
<line x1="253.1" y1="894.9" x2="253.1" y2="897.6999999999999" stroke="#5a5a5a" stroke-width="0.9"/>
<line x1="262.9" y1="1130" x2="262.9" y2="1127.2" stroke="#5a5a5a" stroke-width="0.9"/>
<line x1="262.9" y1="894.9" x2="262.9" y2="897.6999999999999" stroke="#5a5a5a" stroke-width="0.9"/>
<line x1="272.7" y1="1130" x2="272.7" y2="1127.2" stroke="#5a5a5a" stroke-width="0.9"/>
<line x1="272.7" y1="894.9" x2="272.7" y2="897.6999999999999" stroke="#5a5a5a" stroke-width="0.9"/>
<line x1="47.2" y1="1110.4" x2="50.0" y2="1110.4" stroke="#5a5a5a" stroke-width="0.9"/>
<line x1="282.5" y1="1110.4" x2="279.7" y2="1110.4" stroke="#5a5a5a" stroke-width="0.9"/>
<line x1="47.2" y1="1090.8" x2="50.0" y2="1090.8" stroke="#5a5a5a" stroke-width="0.9"/>
<line x1="282.5" y1="1090.8" x2="279.7" y2="1090.8" stroke="#5a5a5a" stroke-width="0.9"/>
<line x1="47.2" y1="1071.2" x2="50.0" y2="1071.2" stroke="#5a5a5a" stroke-width="0.9"/>
<line x1="282.5" y1="1071.2" x2="279.7" y2="1071.2" stroke="#5a5a5a" stroke-width="0.9"/>
<line x1="47.2" y1="1051.6" x2="52.7" y2="1051.6" stroke="#5a5a5a" stroke-width="0.9"/>
<line x1="282.5" y1="1051.6" x2="277.0" y2="1051.6" stroke="#5a5a5a" stroke-width="0.9"/>
<line x1="47.2" y1="1032.0" x2="50.0" y2="1032.0" stroke="#5a5a5a" stroke-width="0.9"/>
<line x1="282.5" y1="1032.0" x2="279.7" y2="1032.0" stroke="#5a5a5a" stroke-width="0.9"/>
<line x1="47.2" y1="1012.5" x2="50.0" y2="1012.5" stroke="#5a5a5a" stroke-width="0.9"/>
<line x1="282.5" y1="1012.5" x2="279.7" y2="1012.5" stroke="#5a5a5a" stroke-width="0.9"/>
<line x1="47.2" y1="992.9" x2="50.0" y2="992.9" stroke="#5a5a5a" stroke-width="0.9"/>
<line x1="282.5" y1="992.9" x2="279.7" y2="992.9" stroke="#5a5a5a" stroke-width="0.9"/>
<line x1="47.2" y1="973.3" x2="52.7" y2="973.3" stroke="#5a5a5a" stroke-width="0.9"/>
<line x1="282.5" y1="973.3" x2="277.0" y2="973.3" stroke="#5a5a5a" stroke-width="0.9"/>
<line x1="47.2" y1="953.7" x2="50.0" y2="953.7" stroke="#5a5a5a" stroke-width="0.9"/>
<line x1="282.5" y1="953.7" x2="279.7" y2="953.7" stroke="#5a5a5a" stroke-width="0.9"/>
<line x1="47.2" y1="934.1" x2="50.0" y2="934.1" stroke="#5a5a5a" stroke-width="0.9"/>
<line x1="282.5" y1="934.1" x2="279.7" y2="934.1" stroke="#5a5a5a" stroke-width="0.9"/>
<line x1="47.2" y1="914.5" x2="50.0" y2="914.5" stroke="#5a5a5a" stroke-width="0.9"/>
<line x1="282.5" y1="914.5" x2="279.7" y2="914.5" stroke="#5a5a5a" stroke-width="0.9"/>
<text x="47.2" y="1145.2" font-size="10.4" text-anchor="middle" fill="#222">46</text>
<text x="86.4" y="1145.2" font-size="10.4" text-anchor="middle" fill="#222">48</text>
<text x="125.6" y="1145.2" font-size="10.4" text-anchor="middle" fill="#222">50</text>
<text x="164.9" y="1145.2" font-size="10.4" text-anchor="middle" fill="#222">52</text>
<text x="204.1" y="1145.2" font-size="10.4" text-anchor="middle" fill="#222">54</text>
<text x="243.3" y="1145.2" font-size="10.4" text-anchor="middle" fill="#222">56</text>
<text x="282.5" y="1145.2" font-size="10.4" text-anchor="middle" fill="#222">58</text>
<text x="40.2" y="1134.0" font-size="11" text-anchor="middle" fill="#222">0</text>
<text x="40.2" y="1055.6" font-size="11" text-anchor="middle" fill="#222">2</text>
<text x="40.2" y="977.3" font-size="11" text-anchor="middle" fill="#222">4</text>
<text x="40.2" y="898.9" font-size="11" text-anchor="middle" fill="#222">6</text>
<text x="164.8" y="1159.5" font-size="11" text-anchor="middle" fill="#222">Lateral (μm)</text>
<text transform="translate(24.200000000000003,1009.5) rotate(-90)" font-size="10.6" text-anchor="middle" fill="#333">Electric Field (MV/cm)</text>
<polyline points="47.2,1015.2 66.8,1013.6 86.4,1009.7 106.0,1000.7 125.6,959.6 125.6,935.3 145.2,1012.1 164.9,1050.8 184.5,1046.5 204.1,1039.5 223.7,1032.4 223.7,1013.2 243.3,1051.6 262.9,1090.4 282.5,1114.3" fill="none" stroke="#111" stroke-width="1.45" stroke-linejoin="miter"/>
<text x="49.7" y="884.5" font-size="26.1" textLength="40.6" lengthAdjust="spacingAndGlyphs" fill="#111">(b’)</text>
<rect x="401.3" y="894.2" width="236.40000000000003" height="235.20000000000005" fill="none" stroke="#5a5a5a" stroke-width="1.1"/>
<line x1="411.2" y1="1129.4" x2="411.2" y2="1126.6000000000001" stroke="#5a5a5a" stroke-width="0.9"/>
<line x1="411.2" y1="894.2" x2="411.2" y2="897.0" stroke="#5a5a5a" stroke-width="0.9"/>
<line x1="421.0" y1="1129.4" x2="421.0" y2="1126.6000000000001" stroke="#5a5a5a" stroke-width="0.9"/>
<line x1="421.0" y1="894.2" x2="421.0" y2="897.0" stroke="#5a5a5a" stroke-width="0.9"/>
<line x1="430.9" y1="1129.4" x2="430.9" y2="1126.6000000000001" stroke="#5a5a5a" stroke-width="0.9"/>
<line x1="430.9" y1="894.2" x2="430.9" y2="897.0" stroke="#5a5a5a" stroke-width="0.9"/>
<line x1="440.7" y1="1129.4" x2="440.7" y2="1123.9" stroke="#5a5a5a" stroke-width="0.9"/>
<line x1="440.7" y1="894.2" x2="440.7" y2="899.7" stroke="#5a5a5a" stroke-width="0.9"/>
<line x1="450.6" y1="1129.4" x2="450.6" y2="1126.6000000000001" stroke="#5a5a5a" stroke-width="0.9"/>
<line x1="450.6" y1="894.2" x2="450.6" y2="897.0" stroke="#5a5a5a" stroke-width="0.9"/>
<line x1="460.4" y1="1129.4" x2="460.4" y2="1126.6000000000001" stroke="#5a5a5a" stroke-width="0.9"/>
<line x1="460.4" y1="894.2" x2="460.4" y2="897.0" stroke="#5a5a5a" stroke-width="0.9"/>
<line x1="470.2" y1="1129.4" x2="470.2" y2="1126.6000000000001" stroke="#5a5a5a" stroke-width="0.9"/>
<line x1="470.2" y1="894.2" x2="470.2" y2="897.0" stroke="#5a5a5a" stroke-width="0.9"/>
<line x1="480.1" y1="1129.4" x2="480.1" y2="1123.9" stroke="#5a5a5a" stroke-width="0.9"/>
<line x1="480.1" y1="894.2" x2="480.1" y2="899.7" stroke="#5a5a5a" stroke-width="0.9"/>
<line x1="490.0" y1="1129.4" x2="490.0" y2="1126.6000000000001" stroke="#5a5a5a" stroke-width="0.9"/>
<line x1="490.0" y1="894.2" x2="490.0" y2="897.0" stroke="#5a5a5a" stroke-width="0.9"/>
<line x1="499.8" y1="1129.4" x2="499.8" y2="1126.6000000000001" stroke="#5a5a5a" stroke-width="0.9"/>
<line x1="499.8" y1="894.2" x2="499.8" y2="897.0" stroke="#5a5a5a" stroke-width="0.9"/>
<line x1="509.7" y1="1129.4" x2="509.7" y2="1126.6000000000001" stroke="#5a5a5a" stroke-width="0.9"/>
<line x1="509.7" y1="894.2" x2="509.7" y2="897.0" stroke="#5a5a5a" stroke-width="0.9"/>
<line x1="519.5" y1="1129.4" x2="519.5" y2="1123.9" stroke="#5a5a5a" stroke-width="0.9"/>
<line x1="519.5" y1="894.2" x2="519.5" y2="899.7" stroke="#5a5a5a" stroke-width="0.9"/>
<line x1="529.4" y1="1129.4" x2="529.4" y2="1126.6000000000001" stroke="#5a5a5a" stroke-width="0.9"/>
<line x1="529.4" y1="894.2" x2="529.4" y2="897.0" stroke="#5a5a5a" stroke-width="0.9"/>
<line x1="539.2" y1="1129.4" x2="539.2" y2="1126.6000000000001" stroke="#5a5a5a" stroke-width="0.9"/>
<line x1="539.2" y1="894.2" x2="539.2" y2="897.0" stroke="#5a5a5a" stroke-width="0.9"/>
<line x1="549.1" y1="1129.4" x2="549.1" y2="1126.6000000000001" stroke="#5a5a5a" stroke-width="0.9"/>
<line x1="549.1" y1="894.2" x2="549.1" y2="897.0" stroke="#5a5a5a" stroke-width="0.9"/>
<line x1="558.9" y1="1129.4" x2="558.9" y2="1123.9" stroke="#5a5a5a" stroke-width="0.9"/>
<line x1="558.9" y1="894.2" x2="558.9" y2="899.7" stroke="#5a5a5a" stroke-width="0.9"/>
<line x1="568.8" y1="1129.4" x2="568.8" y2="1126.6000000000001" stroke="#5a5a5a" stroke-width="0.9"/>
<line x1="568.8" y1="894.2" x2="568.8" y2="897.0" stroke="#5a5a5a" stroke-width="0.9"/>
<line x1="578.6" y1="1129.4" x2="578.6" y2="1126.6000000000001" stroke="#5a5a5a" stroke-width="0.9"/>
<line x1="578.6" y1="894.2" x2="578.6" y2="897.0" stroke="#5a5a5a" stroke-width="0.9"/>
<line x1="588.5" y1="1129.4" x2="588.5" y2="1126.6000000000001" stroke="#5a5a5a" stroke-width="0.9"/>
<line x1="588.5" y1="894.2" x2="588.5" y2="897.0" stroke="#5a5a5a" stroke-width="0.9"/>
<line x1="598.3" y1="1129.4" x2="598.3" y2="1123.9" stroke="#5a5a5a" stroke-width="0.9"/>
<line x1="598.3" y1="894.2" x2="598.3" y2="899.7" stroke="#5a5a5a" stroke-width="0.9"/>
<line x1="608.2" y1="1129.4" x2="608.2" y2="1126.6000000000001" stroke="#5a5a5a" stroke-width="0.9"/>
<line x1="608.2" y1="894.2" x2="608.2" y2="897.0" stroke="#5a5a5a" stroke-width="0.9"/>
<line x1="618.0" y1="1129.4" x2="618.0" y2="1126.6000000000001" stroke="#5a5a5a" stroke-width="0.9"/>
<line x1="618.0" y1="894.2" x2="618.0" y2="897.0" stroke="#5a5a5a" stroke-width="0.9"/>
<line x1="627.9" y1="1129.4" x2="627.9" y2="1126.6000000000001" stroke="#5a5a5a" stroke-width="0.9"/>
<line x1="627.9" y1="894.2" x2="627.9" y2="897.0" stroke="#5a5a5a" stroke-width="0.9"/>
<line x1="401.3" y1="1109.8" x2="404.1" y2="1109.8" stroke="#5a5a5a" stroke-width="0.9"/>
<line x1="637.7" y1="1109.8" x2="634.9000000000001" y2="1109.8" stroke="#5a5a5a" stroke-width="0.9"/>
<line x1="401.3" y1="1090.2" x2="404.1" y2="1090.2" stroke="#5a5a5a" stroke-width="0.9"/>
<line x1="637.7" y1="1090.2" x2="634.9000000000001" y2="1090.2" stroke="#5a5a5a" stroke-width="0.9"/>
<line x1="401.3" y1="1070.6" x2="404.1" y2="1070.6" stroke="#5a5a5a" stroke-width="0.9"/>
<line x1="637.7" y1="1070.6" x2="634.9000000000001" y2="1070.6" stroke="#5a5a5a" stroke-width="0.9"/>
<line x1="401.3" y1="1051.0" x2="406.8" y2="1051.0" stroke="#5a5a5a" stroke-width="0.9"/>
<line x1="637.7" y1="1051.0" x2="632.2" y2="1051.0" stroke="#5a5a5a" stroke-width="0.9"/>
<line x1="401.3" y1="1031.4" x2="404.1" y2="1031.4" stroke="#5a5a5a" stroke-width="0.9"/>
<line x1="637.7" y1="1031.4" x2="634.9000000000001" y2="1031.4" stroke="#5a5a5a" stroke-width="0.9"/>
<line x1="401.3" y1="1011.8" x2="404.1" y2="1011.8" stroke="#5a5a5a" stroke-width="0.9"/>
<line x1="637.7" y1="1011.8" x2="634.9000000000001" y2="1011.8" stroke="#5a5a5a" stroke-width="0.9"/>
<line x1="401.3" y1="992.2" x2="404.1" y2="992.2" stroke="#5a5a5a" stroke-width="0.9"/>
<line x1="637.7" y1="992.2" x2="634.9000000000001" y2="992.2" stroke="#5a5a5a" stroke-width="0.9"/>
<line x1="401.3" y1="972.6" x2="406.8" y2="972.6" stroke="#5a5a5a" stroke-width="0.9"/>
<line x1="637.7" y1="972.6" x2="632.2" y2="972.6" stroke="#5a5a5a" stroke-width="0.9"/>
<line x1="401.3" y1="953.0" x2="404.1" y2="953.0" stroke="#5a5a5a" stroke-width="0.9"/>
<line x1="637.7" y1="953.0" x2="634.9000000000001" y2="953.0" stroke="#5a5a5a" stroke-width="0.9"/>
<line x1="401.3" y1="933.4" x2="404.1" y2="933.4" stroke="#5a5a5a" stroke-width="0.9"/>
<line x1="637.7" y1="933.4" x2="634.9000000000001" y2="933.4" stroke="#5a5a5a" stroke-width="0.9"/>
<line x1="401.3" y1="913.8" x2="404.1" y2="913.8" stroke="#5a5a5a" stroke-width="0.9"/>
<line x1="637.7" y1="913.8" x2="634.9000000000001" y2="913.8" stroke="#5a5a5a" stroke-width="0.9"/>
<text x="401.3" y="1144.6000000000001" font-size="10.4" text-anchor="middle" fill="#222">46</text>
<text x="440.7" y="1144.6000000000001" font-size="10.4" text-anchor="middle" fill="#222">48</text>
<text x="480.1" y="1144.6000000000001" font-size="10.4" text-anchor="middle" fill="#222">50</text>
<text x="519.5" y="1144.6000000000001" font-size="10.4" text-anchor="middle" fill="#222">52</text>
<text x="558.9" y="1144.6000000000001" font-size="10.4" text-anchor="middle" fill="#222">54</text>
<text x="598.3" y="1144.6000000000001" font-size="10.4" text-anchor="middle" fill="#222">56</text>
<text x="637.7" y="1144.6000000000001" font-size="10.4" text-anchor="middle" fill="#222">58</text>
<text x="394.3" y="1133.4" font-size="11" text-anchor="middle" fill="#222">0</text>
<text x="394.3" y="1055.0" font-size="11" text-anchor="middle" fill="#222">2</text>
<text x="394.3" y="976.6" font-size="11" text-anchor="middle" fill="#222">4</text>
<text x="394.3" y="898.2" font-size="11" text-anchor="middle" fill="#222">6</text>
<text x="519.5" y="1158.9" font-size="11" text-anchor="middle" fill="#222">Lateral (μm)</text>
<text transform="translate(378.3,1008.8) rotate(-90)" font-size="10.6" text-anchor="middle" fill="#333">Electric Field (MV/cm)</text>
<polyline points="401.3,1017.7 421.0,1016.1 440.7,1011.8 460.4,1001.2 480.1,953.8 480.1,924.8 499.8,1005.5 519.5,1058.1 539.2,1059.2 558.9,1055.7 578.6,1054.9 578.6,1044.7 598.3,1071.0 618.0,1097.6 637.7,1116.9" fill="none" stroke="#111" stroke-width="1.45" stroke-linejoin="miter"/>
<text x="406.3" y="884.5" font-size="26.1" textLength="35.9" lengthAdjust="spacingAndGlyphs" fill="#111">(c’)</text>
</svg>
</body></html>
